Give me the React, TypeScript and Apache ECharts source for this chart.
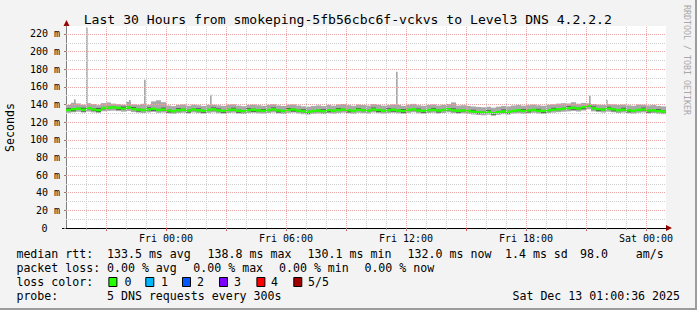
import React, { useEffect, useRef } from "react";
import * as echarts from "echarts";

// ---- data ----
const START_HOUR = -5; // Thu 19:00 relative to Fri 00:00
const STEP_HOURS = 0.25;
const SPIKE_HOURS = 1 / 12; // one 5-minute sample

const median = [
  133.8, 134.6, 135.2, 134.1, 135.8, 134.4, 133.6, 135.9, 136.4, 136.8,
  136.1, 135.4, 136.6, 134.9, 134.2, 133.7, 134.5, 135.1, 133.9, 134.3,
  133.2, 132.4, 133.6, 134.0, 133.1, 134.4, 133.5, 132.8, 133.9, 134.6,
  133.4, 132.7, 133.8, 134.2, 133.0, 132.5, 133.6, 134.1, 133.3, 132.9,
  133.7, 134.5, 133.2, 132.6, 133.9, 134.3, 133.1, 132.3, 131.8, 132.6,
  133.1, 132.4, 133.5, 132.9, 133.8, 134.2, 133.4, 132.8, 134.0, 133.6,
  133.0, 134.4, 133.7, 132.9, 133.5, 134.1, 133.2, 132.7, 133.9, 134.6,
  133.3, 132.8, 133.6, 134.0, 133.1, 133.8, 134.5, 133.4, 132.9, 133.3,
  132.6, 131.9, 131.3, 130.8, 131.6, 130.1, 131.4, 132.2, 131.7, 132.8,
  133.4, 132.7, 133.2, 133.9, 133.0, 132.6, 133.5, 134.1, 134.6, 135.2,
  135.8, 136.3, 135.5, 136.9, 138.8, 135.7, 134.8, 134.2, 135.3, 134.5,
  133.6, 134.2, 133.3, 132.8, 133.9, 134.4, 133.1, 133.5, 132.6, 132.0,
];

// inner smoke (2nd and 4th of the 5 sorted pings)
const innerHigh = [
  135.9, 135.6, 136.2, 136.3, 136.7, 135.5, 135.9, 136.8, 137.3, 137.9,
  137.0, 137.6, 137.5, 137.1, 135.2, 134.8, 136.7, 136.0, 135.0, 136.4,
  134.2, 133.4, 135.8, 135.1, 134.1, 135.4, 135.7, 133.8, 134.9, 136.7,
  135.5, 133.7, 134.8, 136.3, 134.0, 133.5, 135.7, 135.1, 134.3, 134.9,
  134.7, 136.6, 134.2, 133.6, 136.0, 135.3, 134.1, 134.4, 132.8, 133.6,
  134.1, 134.5, 134.5, 133.9, 135.9, 135.2, 134.4, 133.8, 136.1, 134.6,
  134.0, 136.5, 134.7, 133.9, 135.6, 135.1, 134.2, 134.8, 134.9, 135.6,
  135.4, 133.8, 134.6, 136.1, 134.1, 134.8, 135.5, 135.5, 133.9, 134.3,
  133.6, 134.0, 132.3, 131.8, 133.7, 131.1, 132.4, 134.3, 132.7, 133.8,
  134.4, 134.8, 134.2, 134.9, 135.1, 133.6, 134.5, 136.2, 135.6, 136.2,
  137.9, 137.3, 136.5, 137.9, 139.8, 137.8, 135.8, 135.2, 137.4, 135.5,
  134.6, 136.3, 134.3, 133.8, 134.9, 136.5, 134.1, 134.5, 134.7, 133.0,
];

const innerLow = [
  132.6, 132.4, 134.1, 132.0, 134.6, 132.8, 131.5, 134.6, 135.2, 135.9,
  134.0, 134.3, 135.5, 133.7, 132.1, 132.6, 133.4, 132.9, 132.8, 133.2,
  131.0, 131.3, 132.5, 132.9, 130.9, 133.3, 132.4, 130.7, 132.8, 133.5,
  132.3, 130.6, 132.7, 133.1, 130.8, 131.4, 132.5, 131.9, 132.2, 131.8,
  132.6, 133.4, 131.0, 131.5, 132.8, 132.1, 132.0, 131.2, 129.7, 131.5,
  132.0, 131.3, 131.3, 131.8, 132.7, 133.1, 131.2, 131.7, 132.9, 132.5,
  131.9, 133.3, 131.5, 131.8, 132.4, 132.0, 132.1, 130.6, 132.8, 133.5,
  132.2, 130.7, 132.5, 132.9, 131.0, 132.7, 133.4, 132.3, 130.8, 132.2,
  131.5, 130.8, 129.2, 129.7, 130.5, 128.0, 130.3, 131.1, 129.6, 131.7,
  132.3, 131.6, 131.1, 132.8, 131.9, 130.5, 132.4, 133.0, 133.5, 134.1,
  134.7, 134.2, 134.4, 134.8, 137.7, 134.6, 132.7, 133.1, 134.2, 132.4,
  132.5, 133.1, 131.2, 131.7, 132.8, 133.3, 131.0, 132.4, 131.5, 130.9,
];

// outer smoke (max and min of the 5 pings)
const smokeHigh = [
  139.5, 142.0, 141.2, 139.8, 141.5, 140.5, 139.2, 141.6, 142.3, 141.0,
  140.4, 139.8, 143.0, 140.2, 139.5, 140.8, 139.6, 143.5, 144.8, 142.6,
  138.9, 138.2, 139.4, 140.1, 138.6, 139.8, 139.2, 138.4, 139.6, 139.7,
  139.1, 138.5, 139.9, 140.3, 138.8, 138.1, 139.4, 140.0, 139.2, 138.6,
  139.6, 140.4, 139.0, 138.3, 139.7, 140.2, 138.9, 138.0, 137.6, 138.4,
  139.0, 138.2, 139.5, 138.7, 140.1, 140.6, 139.3, 138.6, 140.0, 139.4,
  138.8, 140.5, 139.6, 138.7, 139.3, 140.2, 139.6, 138.5, 139.8, 140.7,
  139.2, 138.6, 139.5, 140.1, 138.9, 139.7, 140.6, 142.4, 138.8, 139.2,
  138.4, 137.8, 137.3, 136.9, 137.5, 136.4, 137.6, 138.3, 137.9, 138.9,
  139.4, 138.7, 139.3, 140.0, 139.1, 138.6, 139.7, 140.3, 141.0, 141.5,
  141.2, 142.6, 140.9, 141.8, 141.4, 140.6, 139.8, 139.5, 140.4, 140.2,
  139.4, 140.0, 139.1, 138.6, 140.0, 139.8, 139.0, 139.4, 138.5, 137.9,
];

const smokeLow = [
  130.6, 131.2, 131.8, 130.9, 132.0, 131.1, 130.5, 132.3, 132.8, 133.0,
  132.5, 131.9, 132.7, 131.4, 130.8, 130.3, 131.0, 131.6, 130.6, 130.9,
  130.0, 129.4, 130.3, 130.7, 129.8, 131.0, 130.2, 129.6, 130.5, 131.1,
  130.1, 129.5, 130.4, 130.8, 129.7, 129.2, 130.3, 130.7, 130.0, 129.6,
  130.4, 131.0, 129.9, 129.3, 130.5, 130.9, 129.8, 129.0, 128.6, 129.3,
  129.8, 129.1, 130.2, 129.6, 130.4, 130.8, 130.1, 129.5, 130.6, 130.2,
  129.7, 131.0, 130.3, 129.6, 130.2, 130.7, 129.9, 129.4, 130.5, 131.2,
  130.0, 129.5, 130.3, 130.7, 129.8, 130.4, 131.1, 130.1, 129.6, 130.0,
  129.3, 128.7, 128.2, 127.8, 128.5, 127.4, 128.3, 129.0, 128.6, 129.6,
  130.1, 129.5, 130.0, 130.6, 129.8, 129.3, 130.2, 130.8, 131.3, 131.8,
  132.2, 132.7, 132.0, 133.1, 134.6, 132.2, 131.4, 130.9, 131.8, 131.2,
  130.4, 130.9, 130.1, 129.6, 130.6, 131.0, 129.9, 130.3, 129.5, 129.0,
];

// single-sample ping spikes (hour relative to Fri 00:00, max rtt in ms)
const spikeHours = [-4.6, -4.0, -1.85, -1.1, 2.2, 11.5, 21.15, 22.0];
const spikeValues = [146, 227, 145, 168, 151, 177, 150, 145];

const xLabelHours = [0, 6, 12, 18, 24];
const xLabels = ["Fri 00:00", "Fri 06:00", "Fri 12:00", "Fri 18:00", "Sat 00:00"];
const yTickValues = [0, 20, 40, 60, 80, 100, 120, 140, 160, 180, 200, 220];

const title = "Last 30 Hours from smokeping-5fb56cbc6f-vckvs to Level3 DNS 4.2.2.2";
const medianStats = ["133.5 ms avg", "138.8 ms max", "130.1 ms min", "132.0 ms now", "1.4 ms sd", "98.0    am/s"];
const lossStats = ["0.00 % avg", "0.00 % max", "0.00 % min", "0.00 % now"];
const lossLabels = ["0", "1", "2", "3", "4", "5/5"];
const lossColors = ["#26ff00", "#00b8ff", "#0059ff", "#7e00ff", "#ff0000", "#a10000"];
const probeText = "5 DNS requests every 300s";
const dateText = "Sat Dec 13 01:00:36 2025";

// ---- layout / style ----
const MONO = '"DejaVu Sans Mono", "Liberation Mono", monospace';
const GRID_L = 66, GRID_T = 26, GRID_W = 600, GRID_H = 202;
const X_MIN = -5, X_MAX = 25, Y_MIN = 0, Y_MAX = 229;
const SMOKE = "#a8a8a8";
const SMOKE_DARK = "#4a4a4a";
const GRID_GRAY = "#cfcfcf";
const GRID_RED = "#e6a6a6";
const LEG_FS = 11.6;
const medianStatX = [107, 207.6, 307.6, 407.6, 505, 580];
const lossStatX = [107, 193.3, 279, 364.4];
const lossBoxX = [108.4, 145.3, 182, 219, 256.4, 293.3];
const lossLabelX = [124.4, 161, 197, 234, 271, 308];
const LINE_Y = [254, 268, 282, 296];

function txt(text: string, x: number, y: number, extra: any = {}) {
  return {
    type: "text",
    x,
    y,
    silent: true,
    style: {
      text,
      fontFamily: MONO,
      fontSize: LEG_FS,
      fill: "#000",
      textAlign: "left",
      textVerticalAlign: "middle",
      ...extra,
    },
  };
}

function bandSeries(data: number[][], width: number, fill: string, z: number) {
  return {
    type: "custom", z, silent: true, clip: true,
    data,
    encode: { x: 0, y: [1, 2] },
    renderItem: (_p: any, api: any) => {
      const t = api.value(0);
      const a = api.coord([t, api.value(2)]);
      const b = api.coord([t + width, api.value(1)]);
      return {
        type: "rect",
        shape: { x: a[0], y: a[1], width: b[0] - a[0], height: b[1] - a[1] },
        style: { fill },
      };
    },
  };
}

export default function App() {
  const ref = useRef<HTMLDivElement>(null);

  useEffect(() => {
    document.body.style.margin = "0";
    if (!ref.current) return;
    const chart = echarts.init(ref.current, undefined, { renderer: "svg" });

    const times = median.map((_, i) => START_HOUR + i * STEP_HOURS);

    const vGray: any[] = [];
    const vRed: any[] = [];
    for (let h = X_MIN + 1; h < X_MAX; h++) {
      if (h % 3 === 0) vRed.push({ xAxis: h, lineStyle: { color: GRID_RED } });
      else vGray.push({ xAxis: h, lineStyle: { color: GRID_GRAY } });
    }
    const hGray: any[] = [];
    const hRed: any[] = [];
    for (let v = 10; v < Y_MAX; v += 10) {
      if (v % 20 === 0) hRed.push({ yAxis: v, lineStyle: { color: GRID_RED } });
      else hGray.push({ yAxis: v, lineStyle: { color: GRID_GRAY } });
    }

    const graphic: any[] = [];
    graphic.push({
      type: "rect", silent: true,
      shape: { x: 695, y: 0, width: 2, height: 310 }, style: { fill: "#9c9c9c" },
    });
    graphic.push({
      type: "rect", silent: true,
      shape: { x: 0, y: 308, width: 697, height: 2 }, style: { fill: "#9c9c9c" },
    });
    graphic.push(txt(title, 347.8, 19, { fontSize: 13.1, textAlign: "center" }));
    graphic.push({
      type: "text", silent: true, x: 10, y: 127.5, rotation: Math.PI / 2,
      style: { text: "Seconds", fontFamily: MONO, fontSize: LEG_FS, fill: "#000", textAlign: "center", textVerticalAlign: "middle" },
    });
    graphic.push({
      type: "text", silent: true, x: 686.5, y: 60, rotation: -Math.PI / 2,
      style: { text: "RRDTOOL / TOBI OETIKER", fontFamily: MONO, fontSize: 8.3, fill: "#a8a8a8", textAlign: "center", textVerticalAlign: "middle" },
    });
    // axis arrows
    graphic.push({
      type: "polygon", silent: true,
      shape: { points: [[63.5, 26], [69.5, 26], [66.5, 20]] }, style: { fill: "#9a0000" },
    });
    graphic.push({
      type: "polygon", silent: true,
      shape: { points: [[666, 225], [666, 231], [672, 228]] }, style: { fill: "#9a0000" },
    });
    graphic.push({
      type: "line", silent: true,
      shape: { x1: 62, y1: 228.5, x2: 66, y2: 228.5 }, style: { stroke: "#000", lineWidth: 1 },
    });

    // legend
    graphic.push(txt("median rtt:", 16.4, LINE_Y[0]));
    medianStats.forEach((s, i) => graphic.push(txt(s, medianStatX[i], LINE_Y[0])));
    graphic.push(txt("packet loss:", 16.4, LINE_Y[1]));
    lossStats.forEach((s, i) => graphic.push(txt(s, lossStatX[i], LINE_Y[1])));
    graphic.push(txt("loss color:", 16.4, LINE_Y[2]));
    lossLabels.forEach((s, i) => {
      graphic.push({
        type: "rect", silent: true,
        shape: { x: lossBoxX[i] + 0.5, y: LINE_Y[2] - 4.5, width: 8, height: 9 },
        style: { fill: lossColors[i], stroke: "#000", lineWidth: 1 },
      });
      graphic.push(txt(s, lossLabelX[i], LINE_Y[2]));
    });
    graphic.push(txt("probe:", 16.4, LINE_Y[3]));
    graphic.push(txt(probeText, 107, LINE_Y[3]));
    graphic.push(txt(dateText, 680, LINE_Y[3], { textAlign: "right" }));

    const medianAt = (h: number) => {
      const i = Math.min(median.length - 1, Math.max(0, Math.floor((h - START_HOUR) / STEP_HOURS)));
      return median[i];
    };

    const option: any = {
      animation: false,
      backgroundColor: "transparent",
      grid: {
        left: GRID_L, top: GRID_T, width: GRID_W, height: GRID_H,
        show: true, backgroundColor: "#ffffff", borderWidth: 0,
      },
      xAxis: {
        type: "value", min: X_MIN, max: X_MAX,
        axisLine: { show: true, onZero: false, lineStyle: { color: "#000", width: 1 } },
        splitLine: { show: false },
        axisTick: { show: true, customValues: [-3, 0, 3, 6, 9, 12, 15, 18, 21, 24], length: 3, lineStyle: { color: "#e05050" } },
        minorTick: { show: true, splitNumber: 5, length: 2, lineStyle: { color: "#999" } },
        axisLabel: {
          customValues: xLabelHours,
          formatter: (v: number) => {
            const k = xLabelHours.indexOf(Math.round(v));
            return k >= 0 ? xLabels[k] : "";
          },
          fontFamily: MONO, fontSize: 10, color: "#000", margin: 5,
        },
      },
      yAxis: {
        type: "value", min: Y_MIN, max: Y_MAX, interval: 20,
        axisLine: { show: true, onZero: false, lineStyle: { color: "#808080", width: 1 } },
        splitLine: { show: false },
        axisTick: { show: true, customValues: yTickValues, length: 2, lineStyle: { color: "#808080" } },
        axisLabel: {
          customValues: yTickValues,
          formatter: (v: number) => (v === 0 ? "{z|0}" : v % 20 === 0 && v <= 220 ? v + " m" : ""),
          fontFamily: MONO, fontSize: 10, color: "#000", margin: 6,
          rich: { z: { fontFamily: MONO, fontSize: 10, color: "#000", padding: [0, 12.5, 0, 0] } },
        },
      },
      graphic,
      series: [
        {
          type: "line", data: [], z: 1, silent: true,
          markLine: {
            silent: true, symbol: ["none", "none"], label: { show: false },
            lineStyle: { type: [1, 1], width: 1 },
            data: [...vGray, ...hGray, ...vRed, ...hRed],
          },
        },
        bandSeries(times.map((t, i) => [t, smokeLow[i], smokeHigh[i]]), STEP_HOURS, SMOKE, 2),
        bandSeries(spikeHours.map((h, i) => [h, medianAt(h), spikeValues[i]]), SPIKE_HOURS, SMOKE, 2),
        bandSeries(times.map((t, i) => [t, innerLow[i], innerHigh[i]]), STEP_HOURS, SMOKE_DARK, 3),
        {
          type: "custom", z: 4, silent: true, clip: true,
          data: times.map((t, i) => [t, median[i]]),
          encode: { x: 0, y: 1 },
          renderItem: (_p: any, api: any) => {
            const t = api.value(0);
            const a = api.coord([t, api.value(1)]);
            const b = api.coord([t + STEP_HOURS, api.value(1)]);
            return {
              type: "rect",
              shape: { x: a[0], y: a[1] - 1.25, width: b[0] - a[0], height: 2.5 },
              style: { fill: lossColors[0] },
            };
          },
        },
      ],
    };

    chart.setOption(option);
    return () => chart.dispose();
  }, []);

  return <div ref={ref} style={{ width: 697, height: 310, background: "#f3f3f3" }} />;
}
